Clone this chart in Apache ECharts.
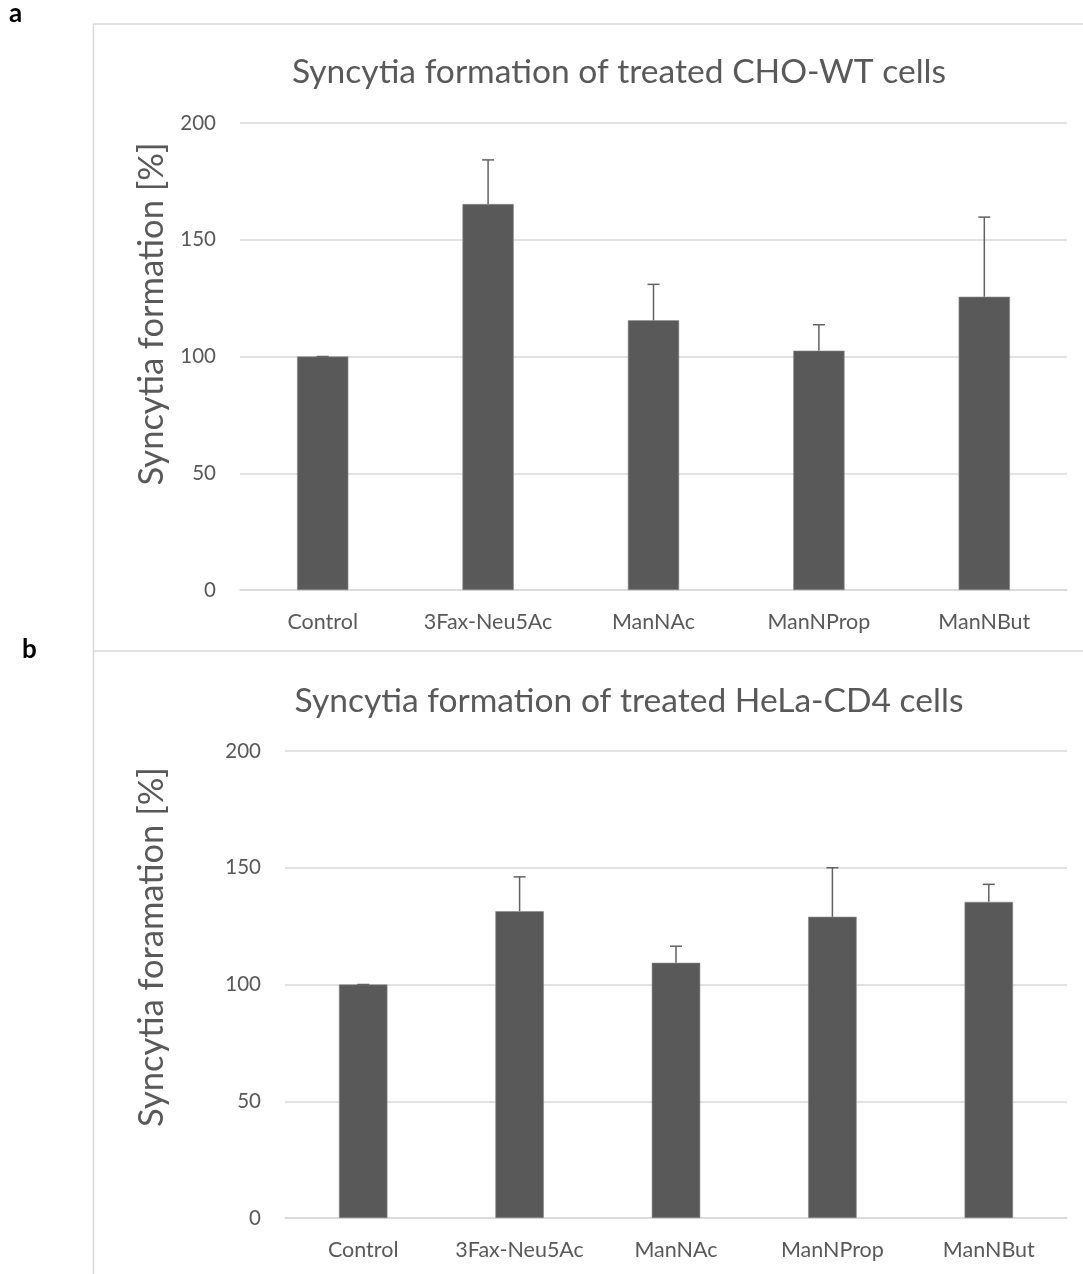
<!DOCTYPE html>
<html>
<head>
<meta charset="utf-8">
<script src="https://cdn.jsdelivr.net/npm/echarts@6/dist/echarts.min.js"></script>
<style>
  html, body { margin: 0; padding: 0; background: #ffffff; }
  #chart { width: 1083px; height: 1274px; }
</style>
</head>
<body>
<div id="chart"></div>
<script>
// Treatments (shared by both panels)
const categories = ['Control', '3Fax-Neu5Ac', 'ManNAc', 'ManNProp', 'ManNBut'];
const yTicks = [0, 50, 100, 150, 200];

// Panel a: CHO-WT cells
const choMeans = [100, 165.3, 115.5, 102.5, 125.6];
const choErrors = [0, 18.9, 15.4, 11.1, 34.1];

// Panel b: HeLa-CD4 cells
const helaMeans = [100, 131.4, 109.3, 129.0, 135.4];
const helaErrors = [0, 14.7, 7.1, 21.0, 7.5];

const FONT = 'Lato, "Open Sans", sans-serif';
const TEXT = '#595959';
const GRID = '#d9d9d9';
const BAR = '#595959';

const chart = echarts.init(document.getElementById('chart'), null, { renderer: 'canvas' });

// upper error bars: a stem from the mean to mean + error, with a short cap
function errorSeries(gridIdx, means, errors) {
  return {
    type: 'custom',
    xAxisIndex: gridIdx,
    yAxisIndex: gridIdx,
    z: 5,
    data: means.map((m, i) => [i, m, m + errors[i]]),
    renderItem: function (params, api) {
      const base = api.coord([api.value(0), api.value(1)]);
      const top = api.coord([api.value(0), api.value(2)]);
      const half = 6;
      return {
        type: 'group',
        children: [
          { type: 'line', shape: { x1: base[0], y1: base[1], x2: top[0], y2: top[1] },
            style: { stroke: '#626262', lineWidth: 1.5 } },
          { type: 'line', shape: { x1: top[0] - half, y1: top[1], x2: top[0] + half, y2: top[1] },
            style: { stroke: '#626262', lineWidth: 1.5 } }
        ]
      };
    }
  };
}

function yAxis(gridIdx) {
  return {
    type: 'value',
    gridIndex: gridIdx,
    min: yTicks[0],
    max: yTicks[yTicks.length - 1],
    interval: yTicks[1] - yTicks[0],
    axisLine: { show: false },
    axisTick: { show: false },
    axisLabel: { color: TEXT, fontFamily: FONT, fontSize: 20.5, margin: 24 },
    splitLine: { lineStyle: { color: GRID, width: 1.5 } }
  };
}

function xAxis(gridIdx) {
  return {
    type: 'category',
    gridIndex: gridIdx,
    data: categories,
    axisLine: { lineStyle: { color: GRID, width: 1.5 } },
    axisTick: { show: false },
    axisLabel: { color: TEXT, fontFamily: FONT, fontSize: 21.5, margin: 21, interval: 0 }
  };
}

function barSeries(gridIdx, means) {
  return {
    type: 'bar',
    xAxisIndex: gridIdx,
    yAxisIndex: gridIdx,
    data: means,
    barWidth: '31%',
    itemStyle: { color: BAR, borderColor: '#8a8a8a', borderWidth: 0.6 }
  };
}

const option = {
  animation: false,
  backgroundColor: '#ffffff',
  title: [
    { text: 'Syncytia formation of treated CHO-WT cells', left: 614, top: 50, textAlign: 'center',
      textStyle: { color: TEXT, fontFamily: FONT, fontSize: 33.6, fontWeight: 'normal' } },
    { text: 'Syncytia formation of treated HeLa-CD4 cells', left: 624, top: 679, textAlign: 'center',
      textStyle: { color: TEXT, fontFamily: FONT, fontSize: 33.6, fontWeight: 'normal' } }
  ],
  grid: [
    { left: 240, right: 16, top: 123, height: 467 },
    { left: 285, right: 16, top: 751, height: 467 }
  ],
  xAxis: [xAxis(0), xAxis(1)],
  yAxis: [yAxis(0), yAxis(1)],
  series: [
    barSeries(0, choMeans),
    errorSeries(0, choMeans, choErrors),
    barSeries(1, helaMeans),
    errorSeries(1, helaMeans, helaErrors)
  ],
  graphic: [
    // panel frames
    { type: 'polyline', silent: true, shape: { points: [[1090, 24], [93.5, 24], [93.5, 651], [1090, 651]] },
      style: { stroke: GRID, lineWidth: 1.5, fill: null } },
    { type: 'line', silent: true, shape: { x1: 93.5, y1: 651, x2: 93.5, y2: 1280 },
      style: { stroke: GRID, lineWidth: 1.5 } },
    // panel letters
    { type: 'text', left: 9, top: 1, style: { text: 'a', fill: '#000', font: 'bold 26px ' + FONT } },
    { type: 'text', left: 22, top: 637, style: { text: 'b', fill: '#000', font: 'bold 26px ' + FONT } },
    // y-axis names
    { type: 'text', x: 152, y: 314, rotation: Math.PI / 2,
      style: { text: 'Syncytia formation [%]', fill: TEXT, font: '34.5px ' + FONT,
               textAlign: 'center', textVerticalAlign: 'middle' } },
    { type: 'text', x: 152, y: 947, rotation: Math.PI / 2,
      style: { text: 'Syncytia foramation [%]', fill: TEXT, font: '34.5px ' + FONT,
               textAlign: 'center', textVerticalAlign: 'middle' } }
  ]
};

chart.setOption(option);
</script>
</body>
</html>
